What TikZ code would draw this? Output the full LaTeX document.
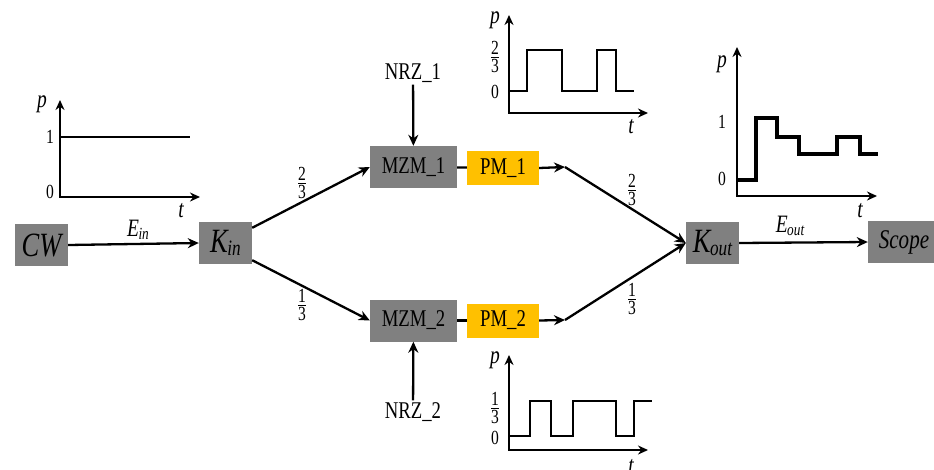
\documentclass[tikz,border=0pt]{standalone}
\usepackage{amsmath}
\usepackage{fontspec}
\setmainfont{Liberation Serif}
\newfontfamily\lab[FakeStretch=0.78]{Liberation Serif}
\usetikzlibrary{arrows.meta}
\definecolor{boxgray}{RGB}{128,128,128}
\definecolor{pmorange}{RGB}{255,192,0}
\newcommand\fs[1]{\fontsize{#1}{#1}\selectfont}
\newcommand\withsub[4]{#1\kern-0.5pt\raisebox{-#4}{\fs{#3}#2}}
\newcommand\fr[2]{{\fs{20}$\genfrac{}{}{0.8pt}{}{\mbox{\lab\fs{20}#1}}{\mbox{\lab\fs{20}#2}}$}}
\tikzset{
  blockg/.style={fill=boxgray, inner sep=0pt, minimum width=53pt, minimum height=42pt, font=\lab\itshape\fs{34}},
  mzmbox/.style={fill=boxgray, inner sep=0pt, minimum width=87pt, minimum height=42pt, font=\lab\fs{24}},
  pmbox/.style={fill=pmorange, inner sep=0pt, minimum width=72pt, minimum height=34pt, font=\lab\fs{24}},
  conn/.style={line width=2.3pt, -{Stealth[length=11pt,width=10pt]}},
  plain/.style={line width=2.3pt},
  axis/.style={line width=2.2pt, {Stealth[length=10pt,width=9pt]}-{Stealth[length=10pt,width=9pt]}},
  sig/.style={line width=2pt},
  tick/.style={font=\lab\fs{20}, inner sep=0pt},
  vlab/.style={font=\lab\itshape\fs{25}, inner sep=0pt},
  txt/.style={font=\lab\fs{24}, inner sep=2pt},
}
\begin{document}
\begin{tikzpicture}[x=1pt, y=-1pt]
\useasboundingbox (0,0) rectangle (934,469);

% blocks
\node[blockg] (cw) at (41.5,245) {CW};
\node[blockg] (kin) at (225.5,243) {\withsub{K}{in}{22}{3pt}};
\node[mzmbox] (mzm1) at (413.5,167) {MZM\_1};
\node[mzmbox] (mzm2) at (413.5,320.5) {MZM\_2};
\node[pmbox] (pm1) at (503,168) {PM\_1};
\node[pmbox] (pm2) at (503,320.5) {PM\_2};
\node[blockg] (kout) at (712.5,243) {\withsub{K}{out}{22}{3pt}};
\node[blockg, minimum width=72pt, font=\lab\itshape\fs{27}] (scope) at (904,242) {Scope};
\node[txt] (nrz1) at (413,73) {NRZ\_1};
\node[txt] (nrz2) at (413,412) {NRZ\_2};
\coordinate (c1) at (565,167);
\coordinate (c2) at (565,320);

% connectors
\draw[conn] (cw.east) -- (kin.west);
\draw[conn] ([yshift=-6pt]kin.north east) -- (mzm1.west);
\draw[conn] ([yshift=4pt]kin.south east) -- (mzm2.west);
\draw[plain] (mzm1) -- (pm1);
\draw[plain] (mzm2) -- (pm2);
\draw[conn] (pm1.east) -- (c1);
\draw[conn] (pm2.east) -- (c2);
\draw[conn] (c1) -- (kout.west);
\draw[conn] (c2) -- (kout.west);
\draw[conn] (kout.east) -- (scope.west);
\draw[conn] (nrz1) -- (mzm1);
\draw[conn] (nrz2) -- (mzm2);

% connector labels
\node[font=\lab\itshape\fs{25}] (ein) at (138,230) {\withsub{E}{in}{17}{3pt}};
\node[font=\lab\itshape\fs{25}] (eout) at (790,226) {\withsub{E}{out}{17}{3pt}};
\node (f1) at (302,183) {\fr{2}{3}};
\node (f2) at (302,305) {\fr{1}{3}};
\node (f3) at (632,190) {\fr{2}{3}};
\node (f4) at (632,299) {\fr{1}{3}};

% left graph
\draw[axis] (60,100) -- (60,197) -- (200,197);
\draw[sig] (60,137) -- (190,137);
\node[vlab] at (42,104) {p};
\node[tick] at (50,137) {1};
\node[tick] at (50,192) {0};
\node[vlab] at (181,211) {t};

% top graph
\draw[axis] (509,15) -- (509,113) -- (648,113);
\draw[sig] (509,91) -| (527,50) -| (562,91) -| (597,50) -| (616,91) -- (634,91);
\node[vlab] at (495,20) {p};
\node[inner sep=0pt] at (495,57) {\fr{2}{3}};
\node[tick] at (495,92) {0};
\node[vlab] at (631,127) {t};

% right graph
\draw[axis] (737,47) -- (737,196) -- (877,196);
\draw[line width=4.5pt] (737,180) -| (756,118) -| (777,137) -| (799,154) -| (837,137) -| (860,154) -- (878,154);
\node[vlab] at (722,64) {p};
\node[tick] at (722,122) {1};
\node[tick] at (722,179) {0};
\node[vlab] at (860,211) {t};

% bottom graph
\draw[axis] (509,355) -- (509,450) -- (648,450);
\draw[sig] (509,436) -| (530,401) -| (551,436) -| (573,401) -| (616,436) -| (634,401) -- (652,401);
\node[vlab] at (495,360) {p};
\node[inner sep=0pt] at (495,408) {\fr{1}{3}};
\node[tick] at (495,438) {0};
\node[vlab] at (631,467) {t};
\end{tikzpicture}
\end{document}
